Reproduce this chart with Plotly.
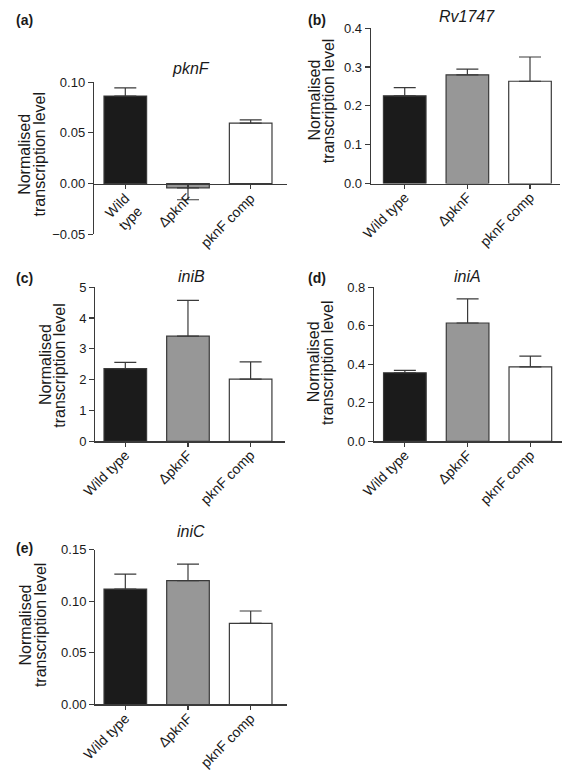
import plotly.graph_objects as go

W, H = 563, 772

categories = ["Wild type", "ΔpknF", "pknF comp"]
tick_labels_a = ["Wild<br>type", "ΔpknF", "pknF comp"]
tick_labels = ["Wild type", "ΔpknF", "pknF comp"]
genes = ["pknF", "Rv1747", "iniB", "iniA", "iniC"]
panel_letters = ["(a)", "(b)", "(c)", "(d)", "(e)"]
ytitle_lines = ["Normalised", "transcription level"]

pknF_mean = [0.0864, -0.0042, 0.0597]
pknF_err = [0.0081, 0.0118, 0.0032]
rv1747_mean = [0.226, 0.280, 0.2635]
rv1747_err = [0.021, 0.015, 0.0625]
iniB_mean = [2.36, 3.41, 2.02]
iniB_err = [0.20, 1.16, 0.56]
iniA_mean = [0.356, 0.614, 0.386]
iniA_err = [0.012, 0.125, 0.056]
iniC_mean = [0.1117, 0.1199, 0.0785]
iniC_err = [0.0146, 0.0159, 0.012]

means = [pknF_mean, rv1747_mean, iniB_mean, iniA_mean, iniC_mean]
errs = [pknF_err, rv1747_err, iniB_err, iniA_err, iniC_err]

bar_colors = ["#1b1b1b", "#979797", "#ffffff"]
line_col = "#3a3a3a"
font_family = "Liberation Sans, Arial, sans-serif"
txt_col = "#1a1a1a"

def fx(x):
    return x / W

def fy(y):
    return 1 - y / H

# panel geometry in pixels (layout only)
panels = [
    dict(x0=82, x1=280, ytop=76.7, ybot=231.7, yr=[-0.05, 0.10], dt=0.05, fmt=".2f", xr=[-0.5, 2.58], zero=180,
         title_xy=(182, 63), lab_xy=(0, 13), yt_x=(10, 26), yt_y=150, stand=-4),
    dict(x0=366, x1=560, ytop=21.7, ybot=180, yr=[0, 0.4], dt=0.1, fmt=".1f", xr=[-0.54, 2.48], zero=None,
         title_xy=(465, 10), lab_xy=(299, 13), yt_x=(308, 322), yt_y=95, stand=-5),
    dict(x0=83.3, x1=278, ytop=285.7, ybot=443, yr=[0, 5], dt=1, fmt="d", xr=[-0.48, 2.55], zero=None,
         title_xy=(182, 275), lab_xy=(0, 276), yt_x=(33, 47), yt_y=365, stand=-5),
    dict(x0=369.3, x1=561.7, ytop=285.7, ybot=443, yr=[0, 0.8], dt=0.2, fmt=".1f", xr=[-0.49, 2.5], zero=None,
         title_xy=(465, 275), lab_xy=(299, 276), yt_x=(308, 322), yt_y=362, stand=-5),
    dict(x0=83.3, x1=280, ytop=553.3, ybot=711.3, yr=[0, 0.15], dt=0.05, fmt=".2f", xr=[-0.48, 2.58], zero=None,
         title_xy=(182, 535), lab_xy=(0, 552), yt_x=(12, 27), yt_y=630, stand=-5),
]

fig = go.Figure()
layout = dict(
    width=W, height=H, margin=dict(l=0, r=0, t=0, b=0),
    paper_bgcolor="white", plot_bgcolor="white", showlegend=False,
    font=dict(family=font_family, color=txt_col, size=14),
)
annotations = []

for i, p in enumerate(panels):
    n = "" if i == 0 else str(i + 1)
    m = means[i]
    e = errs[i]
    up = [v if mv >= 0 else 0 for v, mv in zip(e, m)]
    down = [v if mv < 0 else 0 for v, mv in zip(e, m)]
    fig.add_trace(go.Bar(
        x=categories, y=m, width=0.68,
        marker=dict(color=bar_colors, line=dict(color=line_col, width=1.2)),
        error_y=dict(type="data", symmetric=False, array=up, arrayminus=down,
                     color=line_col, thickness=1.2, width=11),
        xaxis="x" + n, yaxis="y" + n, hoverinfo="skip",
    ))
    xa = dict(
        domain=[fx(p["x0"]), fx(p["x1"])], range=p["xr"], type="category",
        tickvals=categories, ticktext=tick_labels_a if i == 0 else tick_labels,
        tickangle=-45, ticks="outside", ticklen=4, tickwidth=1.2, tickcolor=line_col,
        ticklabelstandoff=p["stand"],
        showline=True, linecolor=line_col, linewidth=1.2, showgrid=False, zeroline=False,
        tickfont=dict(size=14, family=font_family, color=txt_col), fixedrange=True,
    )
    if p["zero"] is not None:
        xa["anchor"] = "free"
        xa["position"] = fy(p["zero"])
    else:
        xa["anchor"] = "y" + n
    ya = dict(
        domain=[fy(p["ybot"]), fy(p["ytop"])], range=p["yr"], dtick=p["dt"], tick0=0,
        tickformat=p["fmt"], anchor="x" + n,
        ticks="outside", ticklen=5, tickwidth=1.2, tickcolor=line_col,
        showline=True, linecolor=line_col, linewidth=1.2, showgrid=False, zeroline=False,
        tickfont=dict(size=13, family=font_family, color=txt_col), fixedrange=True,
    )
    layout["xaxis" + n] = xa
    layout["yaxis" + n] = ya

    annotations.append(dict(
        text="<i>" + genes[i] + "</i>", x=fx(p["title_xy"][0]), y=fy(p["title_xy"][1]),
        xref="paper", yref="paper", xanchor="center", yanchor="middle", showarrow=False,
        font=dict(size=16, family=font_family, color=txt_col),
    ))
    annotations.append(dict(
        text="<b>" + panel_letters[i] + "</b>", x=fx(p["lab_xy"][0]), y=fy(p["lab_xy"][1]),
        xref="paper", yref="paper", xanchor="left", yanchor="middle", showarrow=False,
        font=dict(size=14, family=font_family, color=txt_col),
    ))
    for line_text, lx in zip(ytitle_lines, p["yt_x"]):
        annotations.append(dict(
            text=line_text, x=fx(lx), y=fy(p["yt_y"]),
            xref="paper", yref="paper", xanchor="center", yanchor="middle", showarrow=False,
            textangle=-90, font=dict(size=16, family=font_family, color=txt_col),
        ))

layout["annotations"] = annotations
fig.update_layout(**layout)
fig.write_html("out.html", config={"displayModeBar": False, "staticPlot": True},
               post_script="document.body.style.margin='0';document.body.style.overflow='hidden';")
